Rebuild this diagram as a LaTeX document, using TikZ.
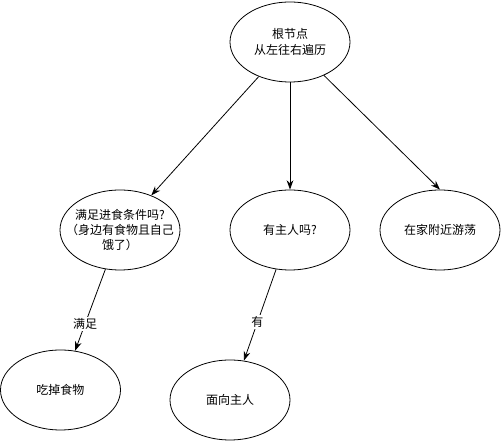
\documentclass[tikz,border=0pt]{standalone}
\usepackage{fontspec}
\setmainfont{Noto Sans CJK SC}
\usetikzlibrary{shapes.geometric, arrows.meta}

\begin{document}
\begin{tikzpicture}[x=0.75pt, y=-0.75pt, font=\fontsize{9pt}{11.5pt}\selectfont, >={Stealth[length=7pt, width=5pt]}]
    \tikzset{
        state/.style={draw, ellipse, line width=0.6pt, minimum width=90pt,
            minimum height=60pt, inner sep=0pt, align=center},
        txt/.style={align=center, inner sep=0pt},
        flow/.style={draw, line width=0.6pt, ->},
        cond/.style={fill=white, inner sep=1pt},
    }
    \useasboundingbox (0,0) rectangle (501,441);

    \node[state] (root) at (290,42) {根节点\\从左往右遍历};
    \node[state, label={[txt]center:满足进食条件吗?\\（身边有食物且自己\\饿了）}] (food) at (120,230) {};
    \node[state] (owner) at (290,230) {有主人吗?};
    \node[state] (wander) at (440,230) {在家附近游荡};
    \node[state] (eat) at (60.5,390) {吃掉食物};
    \node[state] (face) at (230,400) {面向主人};

    \draw[flow] (root) -- (food);
    \draw[flow] (root.south) -- (owner.north);
    \draw[flow] (root) -- (wander.north);
    \draw[flow] (food) -- (eat) node[pos=0.67, cond]{满足};
    \draw[flow] (owner) -- (face) node[pos=0.58, cond]{有};
\end{tikzpicture}
\end{document}
